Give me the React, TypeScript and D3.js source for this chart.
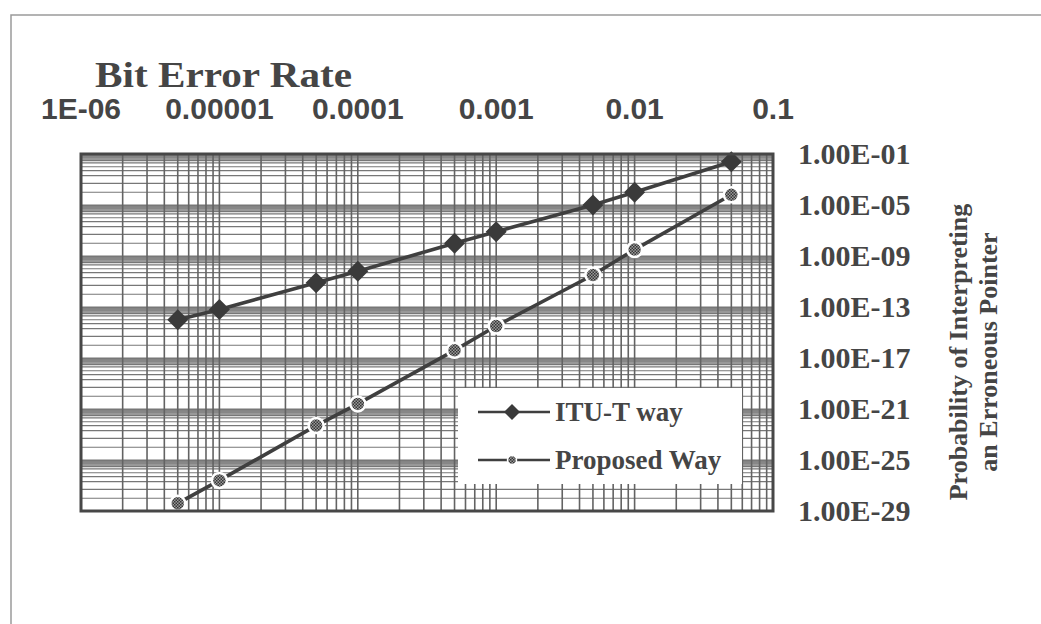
import React from 'react';
import * as d3 from 'd3';

// Bit error rate (top axis) and the two probability series (right axis)
const berValues = [5e-6, 1e-5, 5e-5, 1e-4, 5e-4, 1e-3, 5e-3, 1e-2, 5e-2];
const ituValues = [1.0e-14, 6.3e-14, 8.0e-12, 6.3e-11, 1.0e-8, 8.0e-8, 1.0e-5, 1.0e-4, 2.5e-2];
const proposedValues = [4e-29, 2.5e-27, 5e-23, 2.5e-21, 4e-17, 3.2e-15, 3.2e-11, 3.2e-9, 6.3e-5];
const seriesNames = ['ITU-T way', 'Proposed Way'];

const berTicks = [1e-6, 1e-5, 1e-4, 1e-3, 1e-2, 1e-1];
const berTickLabels = ['1E-06', '0.00001', '0.0001', '0.001', '0.01', '0.1'];
const probTicks = [1e-1, 1e-5, 1e-9, 1e-13, 1e-17, 1e-21, 1e-25, 1e-29];
const probTickLabels = ['1.00E-01', '1.00E-05', '1.00E-09', '1.00E-13', '1.00E-17', '1.00E-21', '1.00E-25', '1.00E-29'];
// minor gridline multipliers inside each 4-decade band (Excel style)
const bandMinor = [10, 50, 200, 500, 1000, 2000, 3000, 4000, 5000, 6000, 7000, 8000, 9000];

const W = 1041;
const H = 624;
const plot = { left: 81, right: 773, top: 154, bottom: 511 };
const ink = '#454545';
const serif = '"Liberation Serif", "Times New Roman", serif';
const sans = '"Liberation Sans", Arial, sans-serif';

const App = () => {
  const x = d3.scaleLog().domain([1e-6, 1e-1]).range([plot.left, plot.right]);
  const y = d3.scaleLog().domain([1e-29, 1e-1]).range([plot.bottom, plot.top]);

  // vertical grid: 1..9 in every decade
  const vGrid: number[] = [];
  for (let e = -6; e < -1; e++) {
    for (let k = 1; k <= 9; k++) vGrid.push(k * Math.pow(10, e));
  }
  // horizontal grid: majors plus minors in each band
  const hGrid: number[] = [];
  probTicks.slice(1).forEach((t) => {
    hGrid.push(t);
    bandMinor.forEach((m) => hGrid.push(t * m));
  });

  const line = d3.line<number>()
    .x((_, i) => x(berValues[i]))
    .y((d) => y(d));

  const diamond = (cx: number, cy: number, r: number) =>
    `M${cx},${cy - r}L${cx + r},${cy}L${cx},${cy + r}L${cx - r},${cy}Z`;

  const legend = { x: 458, y: 388, w: 284, h: 96 };

  return (
    <svg width={W} height={H} style={{ position: 'absolute', left: 0, top: 0, background: '#fff' }}>
      <defs>
        <pattern id="chk" width="3" height="3" patternUnits="userSpaceOnUse">
          <rect width="3" height="3" fill="#9a9a9a" />
          <rect width="1.5" height="1.5" fill="#353535" />
          <rect x="1.5" y="1.5" width="1.5" height="1.5" fill="#353535" />
        </pattern>
        <clipPath id="plotClip">
          <rect x={plot.left} y={plot.top} width={plot.right - plot.left} height={plot.bottom - plot.top} />
        </clipPath>
      </defs>

      {/* outer frame of the figure */}
      <path d={`M11,${H}V15H${W}`} fill="none" stroke="#9a9a9a" strokeWidth={1.5} />

      {/* title */}
      <text x={95} y={87} fontFamily={serif} fontWeight="bold" fontSize={36} fill={ink} textLength={257} lengthAdjust="spacingAndGlyphs">
        Bit Error Rate
      </text>

      {/* top axis labels */}
      {berTicks.map((t, i) => (
        <text key={i} x={x(t)} y={119} textAnchor="middle" fontFamily={sans} fontWeight="bold" fontSize={30} fill={ink}>
          {berTickLabels[i]}
        </text>
      ))}

      {/* grid */}
      <g clipPath="url(#plotClip)">
        {hGrid.map((v, i) => (
          <line key={'h' + i} x1={plot.left} x2={plot.right} y1={y(v)} y2={y(v)} stroke="#777" strokeWidth={1.2} />
        ))}
        {vGrid.map((v, i) => (
          <line key={'v' + i} x1={x(v)} x2={x(v)} y1={plot.top} y2={plot.bottom} stroke="#636363" strokeWidth={1.6} />
        ))}
      </g>

      {/* legend box sits on top of the grid */}
      <rect x={legend.x} y={legend.y} width={legend.w} height={legend.h} fill="#fff" />

      {/* series lines */}
      <path d={line(ituValues) || ''} fill="none" stroke="#3f3f3f" strokeWidth={3.6} />
      <path d={line(proposedValues) || ''} fill="none" stroke="#3f3f3f" strokeWidth={3.6} />

      {/* markers */}
      {ituValues.map((v, i) => (
        <path key={'d' + i} d={diamond(x(berValues[i]), y(v), 10.5)} fill="#3a3a3a" />
      ))}
      {proposedValues.map((v, i) => (
        <circle key={'c' + i} cx={x(berValues[i])} cy={y(v)} r={7.5} fill="url(#chk)" stroke="#fff" strokeWidth={2.5} />
      ))}

      {/* plot frame */}
      <rect x={plot.left} y={plot.top} width={plot.right - plot.left} height={plot.bottom - plot.top}
        fill="none" stroke="#474747" strokeWidth={3} />

      {/* legend entries */}
      <line x1={478} x2={550} y1={412} y2={412} stroke="#3f3f3f" strokeWidth={2.5} />
      <path d={diamond(512, 412, 8)} fill="#3a3a3a" />
      <text x={555} y={421} fontFamily={serif} fontWeight="bold" fontSize={27} fill={ink}>{seriesNames[0]}</text>
      <line x1={478} x2={550} y1={460} y2={460} stroke="#3f3f3f" strokeWidth={2.5} />
      <circle cx={512} cy={460} r={4.5} fill="url(#chk)" stroke="#fff" strokeWidth={1.5} />
      <text x={555} y={469} fontFamily={serif} fontWeight="bold" fontSize={27} fill={ink}>{seriesNames[1]}</text>

      {/* right axis labels */}
      {probTicks.map((t, i) => (
        <text key={i} x={798} y={y(t) + 10} fontFamily={serif} fontWeight="bold" fontSize={30} fill={ink}>
          {probTickLabels[i]}
        </text>
      ))}

      {/* right axis title */}
      <g transform="translate(967,352) rotate(-90)">
        <text x={0} y={0} textAnchor="middle" fontFamily={serif} fontWeight="bold" fontSize={26} fill={ink}>
          Probability of Interpreting
        </text>
        <text x={0} y={30} textAnchor="middle" fontFamily={serif} fontWeight="bold" fontSize={26} fill={ink}>
          an Erroneous Pointer
        </text>
      </g>
    </svg>
  );
};

export default App;
